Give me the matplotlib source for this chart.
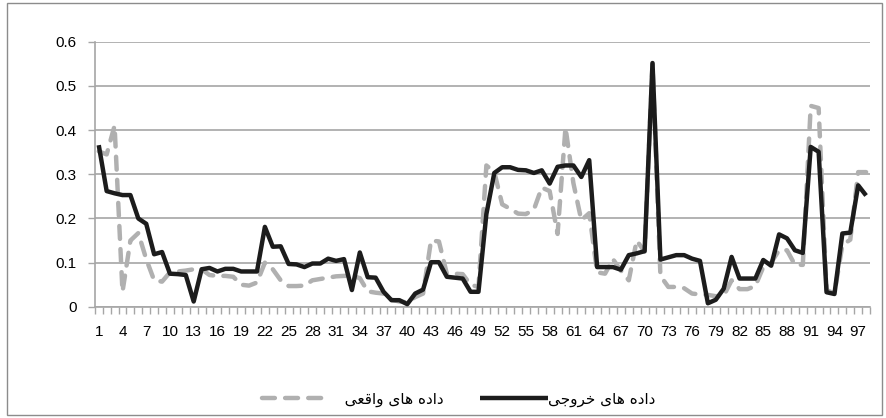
import matplotlib
matplotlib.use("Agg")
import matplotlib.pyplot as plt
import matplotlib.patches as mpatches
from matplotlib.ticker import FixedLocator

# 데이터
output_data = [0.366, 0.262, 0.257, 0.253, 0.253, 0.200, 0.188, 0.119, 0.124, 0.075,
               0.074, 0.072, 0.012, 0.085, 0.088, 0.080, 0.086, 0.086, 0.080, 0.080,
               0.080, 0.181, 0.136, 0.137, 0.097, 0.096, 0.090, 0.098, 0.098, 0.109,
               0.104, 0.108, 0.038, 0.123, 0.067, 0.066, 0.034, 0.015, 0.015, 0.006,
               0.030, 0.039, 0.101, 0.101, 0.068, 0.066, 0.064, 0.034, 0.034, 0.210,
               0.303, 0.316, 0.316, 0.310, 0.309, 0.303, 0.309, 0.279, 0.317, 0.320,
               0.320, 0.294, 0.332, 0.090, 0.090, 0.090, 0.084, 0.117, 0.121, 0.126,
               0.552, 0.107, 0.112, 0.117, 0.117, 0.109, 0.104, 0.008, 0.016, 0.041,
               0.113, 0.064, 0.064, 0.064, 0.106, 0.093, 0.164, 0.155, 0.128, 0.122,
               0.362, 0.351, 0.033, 0.029, 0.166, 0.168, 0.275, 0.252]

actual_data = [0.352, 0.345, 0.410, 0.034, 0.150, 0.167, 0.108, 0.060, 0.057, 0.078,
               0.080, 0.082, 0.085, 0.085, 0.072, 0.070, 0.070, 0.068, 0.050, 0.048,
               0.055, 0.100, 0.085, 0.060, 0.047, 0.047, 0.048, 0.060, 0.063, 0.066,
               0.069, 0.070, 0.070, 0.065, 0.035, 0.032, 0.030, 0.016, 0.012, 0.010,
               0.022, 0.030, 0.150, 0.148, 0.075, 0.075, 0.074, 0.050, 0.045, 0.320,
               0.305, 0.232, 0.222, 0.211, 0.210, 0.220, 0.270, 0.262, 0.165, 0.406,
               0.280, 0.196, 0.212, 0.078, 0.075, 0.108, 0.082, 0.060, 0.150, 0.125,
               0.550, 0.070, 0.045, 0.045, 0.042, 0.030, 0.028, 0.027, 0.024, 0.025,
               0.060, 0.040, 0.040, 0.047, 0.090, 0.100, 0.128, 0.128, 0.095, 0.095,
               0.455, 0.450, 0.038, 0.030, 0.140, 0.152, 0.305, 0.305]

categories = list(range(1, len(output_data) + 1))
x_labels = [str(c) for c in categories[::3]]
y_ticks = [0, 0.1, 0.2, 0.3, 0.4, 0.5, 0.6]
y_labels = ['0', '0.1', '0.2', '0.3', '0.4', '0.5', '0.6']

# 범례 텍스트 (페르시아어, 표시 형태로 미리 조합: "داده های خروجی", "داده های واقعی")
label_output = '\uFBFD\uFE9F\uFEED\uFEAE\uFEA7 \uFBFC\uFE8E\uFEEB \uFEE9\uFEA9\uFE8D\uFEA9'
label_actual = '   \uFBFD\uFECC\uFED7\uFE8D\uFEED \uFBFC\uFE8E\uFEEB \uFEE9\uFEA9\uFE8D\uFEA9'

plt.rcParams['font.family'] = ['Liberation Sans', 'DejaVu Sans']

grid_col = '#A6A6A6'
gray_col = '#B0B0B0'
black_col = '#1C1C1C'

fig = plt.figure(figsize=(8.86, 4.18), dpi=100)
ax = fig.add_axes([0.107, 0.266, 0.875, 0.634])

ax.plot(categories, actual_data, color=gray_col, lw=3.2, linestyle=(0, (2.9, 2.3)),
        dash_capstyle='round', dash_joinstyle='round', label=label_actual, zorder=2)
ax.plot(categories, output_data, color=black_col, lw=3.2,
        solid_joinstyle='round', solid_capstyle='butt', label=label_output, zorder=3)

ax.set_xlim(0.5, len(categories) + 0.5)
ax.set_ylim(0, 0.6)

ax.set_yticks(y_ticks)
ax.set_yticklabels(y_labels)
ax.set_xticks(categories[::3])
ax.set_xticklabels(x_labels)
ax.xaxis.set_minor_locator(FixedLocator([c - 0.5 for c in categories] + [len(categories) + 0.5]))

ax.tick_params(axis='x', which='major', length=0, pad=13, labelsize=11, colors='#000000')
ax.tick_params(axis='x', which='minor', length=5, width=1, color=grid_col, direction='out')
ax.tick_params(axis='y', which='major', length=5, width=1, color=grid_col, pad=8, labelsize=11)

ax.grid(axis='y', color=grid_col, lw=1.2)
ax.set_axisbelow(True)
for s in ['top', 'right']:
    ax.spines[s].set_visible(False)
for s in ['left', 'bottom']:
    ax.spines[s].set_color(grid_col)
    ax.spines[s].set_linewidth(1.2)

# 범례
leg = fig.legend(handles=ax.get_lines(), loc='center', bbox_to_anchor=(0.518, 0.045),
                 ncol=2, frameon=False, handlelength=4.4, columnspacing=2.4,
                 handletextpad=0.05, prop={'family': ['DejaVu Sans'], 'size': 11})

# 차트 테두리
fig.patches.append(mpatches.Rectangle((7 / 886, 3 / 418), 875 / 886, 412 / 418,
                                      transform=fig.transFigure, fill=False,
                                      edgecolor='#8C8C8C', lw=1))

fig.savefig('out.png', dpi=100)
